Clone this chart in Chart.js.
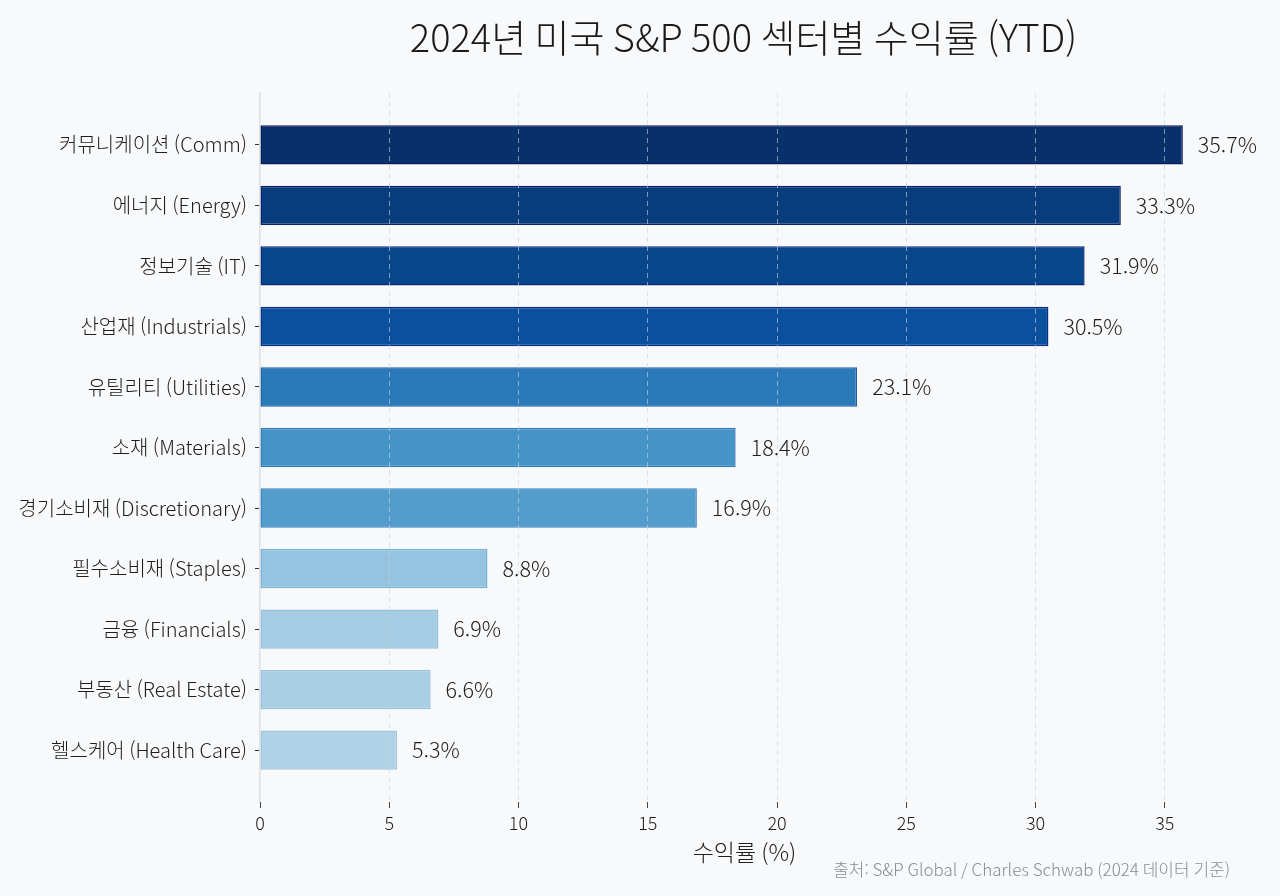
<!DOCTYPE html>
<html lang="ko">
<head>
<meta charset="utf-8">
<title>2024년 미국 S&P 500 섹터별 수익률 (YTD)</title>
<script src="https://cdn.jsdelivr.net/npm/chart.js@4/dist/chart.umd.min.js"></script>
<style>
  html, body { margin: 0; padding: 0; background: #f8f9fb; }
  #wrap { width: 1280px; height: 896px; }
</style>
</head>
<body>
<div id="wrap"><canvas id="sectorChart" width="1280" height="896"></canvas></div>
<script>
// Données (ordre du haut vers le bas)
const sectors = [
  '커뮤니케이션 (Comm)', '에너지 (Energy)', '정보기술 (IT)', '산업재 (Industrials)',
  '유틸리티 (Utilities)', '소재 (Materials)', '경기소비재 (Discretionary)', '필수소비재 (Staples)',
  '금융 (Financials)', '부동산 (Real Estate)', '헬스케어 (Health Care)'
];
const returns = [35.7, 33.3, 31.9, 30.5, 23.1, 18.4, 16.9, 8.8, 6.9, 6.6, 5.3];
const xTicks = [0, 5, 10, 15, 20, 25, 30, 35];

const barColors = [
  '#08306b', '#083c7d', '#08468b', '#0a509c', '#2a7aba', '#4594c8',
  '#529dcc', '#94c4df', '#a5cde3', '#a8cfe4', '#b0d2e7'
];
const barEdges = [
  '#0a1a5e', '#0c2070', '#0c2a7c', '#0c3088', '#1f62a8', '#357cba',
  '#3f84bd', '#7ab3d6', '#94c0dc', '#97c2dd', '#a0c6e0'
];

const titleText = '2024년 미국 S&P 500 섹터별 수익률 (YTD)';
const xTitleText = '수익률 (%)';
const sourceText = '출처: S&P Global / Charles Schwab (2024 데이터 기준)';

const FONT = "'Noto Sans CJK KR', 'Noto Sans', sans-serif";
Chart.defaults.font.family = FONT;
Chart.defaults.font.weight = 300;

// Titre, étiquettes de valeur, source
const textPlugin = {
  id: 'texts',
  afterDraw(chart) {
    const ctx = chart.ctx;
    const area = chart.chartArea;
    const cx = (area.left + area.right) / 2;
    ctx.save();
    ctx.textBaseline = 'middle';

    ctx.fillStyle = '#1a1a1a';
    ctx.font = '300 38px ' + FONT;
    ctx.textAlign = 'center';
    ctx.fillText(titleText, cx - 1, 38);

    ctx.fillStyle = '#1e1e1e';
    ctx.font = '300 23px ' + FONT;
    ctx.fillText(xTitleText, cx, 852);

    ctx.font = '300 21.5px ' + FONT;
    ctx.textAlign = 'left';
    chart.getDatasetMeta(0).data.forEach((bar, i) => {
      ctx.fillText(returns[i].toFixed(1) + '%', bar.x + 15, bar.y);
    });

    ctx.fillStyle = '#8a8d92';
    ctx.font = '300 17px ' + FONT;
    ctx.textAlign = 'right';
    ctx.fillText(sourceText, area.right + 1, 870);
    ctx.restore();
  }
};

const ctx = document.getElementById('sectorChart').getContext('2d');
new Chart(ctx, {
  type: 'bar',
  data: {
    datasets: [{
      data: returns.map((v, i) => ({ x: v, y: i })),
      backgroundColor: barColors,
      borderColor: barEdges,
      borderWidth: 1.5,
      borderSkipped: false,
      barPercentage: 0.65,
      categoryPercentage: 1
    }]
  },
  options: {
    indexAxis: 'y',
    responsive: false,
    animation: false,
    layout: { padding: { top: 93, right: 51, bottom: 0, left: 0 } },
    plugins: {
      legend: { display: false },
      tooltip: { enabled: false }
    },
    scales: {
      x: {
        type: 'linear',
        min: 0,
        max: 37.485,
        afterBuildTicks: scale => { scale.ticks = xTicks.map(v => ({ value: v })); },
        afterFit: scale => { scale.height = 94; },
        ticks: { color: '#1e1e1e', font: { size: 18 }, padding: 4 },
        grid: {
          z: 1,
          color: c => (c.tick && c.tick.value === 0) ? 'rgba(0,0,0,0)' : 'rgba(205, 210, 220, 0.6)',
          lineWidth: 1,
          tickColor: '#444',
          tickLength: 6
        },
        border: { display: false, dash: [5, 4] }
      },
      y: {
        type: 'linear',
        reverse: true,
        offset: false,
        min: -0.8575,
        max: 10.8575,
        afterBuildTicks: scale => { scale.ticks = sectors.map((_, i) => ({ value: i })); },
        afterFit: scale => { scale.width = 260; },
        ticks: {
          color: '#1e1e1e',
          font: { size: 20 },
          padding: 8,
          callback: v => sectors[v]
        },
        grid: {
          offset: false,
          drawOnChartArea: false,
          drawTicks: true,
          tickColor: '#333',
          tickLength: 5
        },
        border: { display: true, color: '#dcdfe4', width: 1.5 }
      }
    }
  },
  plugins: [textPlugin]
});
</script>
</body>
</html>
